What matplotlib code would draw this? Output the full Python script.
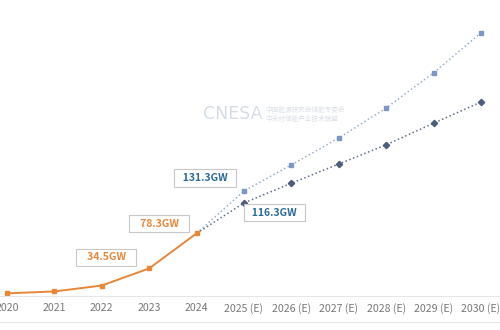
import matplotlib.pyplot as plt
from matplotlib.lines import Line2D

plt.rcParams['font.family'] = ['Noto Sans CJK SC', 'DejaVu Sans']

# données (GW cumulés)
labels = ["2020", "2021", "2022", "2023", "2024",
          "2025 (E)", "2026 (E)", "2027 (E)", "2028 (E)", "2029 (E)", "2030 (E)"]
hist_years = [0, 1, 2, 3, 4]
hist_vals = [3.3, 5.7, 13.1, 34.5, 78.3]
fc_years = [4, 5, 6, 7, 8, 9, 10]
fc_high = [78.3, 131.3, 164.0, 197.5, 235.0, 279.0, 329.0]
fc_low = [78.3, 116.3, 141.0, 165.0, 189.0, 216.0, 242.5]

orange = "#E8873A"
blue_hi = "#7B97C2"
blue_lo = "#4E5D7C"
lbl_blue = "#2A6A96"

fig = plt.figure(figsize=(5, 3.3), dpi=100)
ax = fig.add_axes([0, 34/330, 1, 296/330])

ax.plot(fc_years, fc_high, ':', color="#9AB0CC", lw=1.1)
ax.plot(fc_years[1:], fc_high[1:], 's', color=blue_hi, ms=3.5, lw=0)
ax.plot(fc_years, fc_low, ':', color="#5E6E8E", lw=1.1)
ax.plot(fc_years[1:], fc_low[1:], 'D', color=blue_lo, ms=3.2, lw=0)
ax.plot(hist_years, hist_vals, '-s', color=orange, lw=1.4, ms=3.5)

box = dict(boxstyle="square,pad=0.35", fc="white", ec="#C8C8C8", lw=0.8)
ax.annotate("   34.5GW   ", (3, 34.5), xytext=(-31, 8), textcoords="offset points",
            ha="center", va="center", color=orange, fontsize=7.5, fontweight="bold", bbox=box)
ax.annotate("   78.3GW   ", (4, 78.3), xytext=(-27, 7), textcoords="offset points",
            ha="center", va="center", color=orange, fontsize=7.5, fontweight="bold", bbox=box)
ax.annotate("  131.3GW  ", (5, 131.3), xytext=(-28, 9.4), textcoords="offset points",
            ha="center", va="center", color=lbl_blue, fontsize=7.5, fontweight="bold", bbox=box)
ax.annotate("  116.3GW  ", (5, 116.3), xytext=(22, -7), textcoords="offset points",
            ha="center", va="center", color=lbl_blue, fontsize=7.5, fontweight="bold", bbox=box)

# filigrane
fig.text(0.405, 0.655, "CNESA", color="#D6DDE5", fontsize=12.5, ha="left", va="center",
         family="DejaVu Sans")
fig.text(0.53, 0.667, "中国能源研究会储能专委会", color="#DCE1E7", fontsize=4.8, va="center")
fig.text(0.53, 0.640, "中关村储能产业技术联盟", color="#DCE1E7", fontsize=4.8, va="center")

ax.set_xlim(-7/47.4, 493/47.4)
ax.set_ylim(0, 370)
ax.set_xticks(range(len(labels)))
ax.set_xticklabels(labels, fontsize=7.6, color="#777777")
ax.tick_params(axis='x', length=0, pad=5)
ax.set_yticks([])
for s in ["top", "right", "left"]:
    ax.spines[s].set_visible(False)
ax.spines["bottom"].set_color("#E6E6E6")
ax.spines["bottom"].set_linewidth(0.8)

fig.add_artist(Line2D([0, 1], [8/330, 8/330], color="#E6E6E6", lw=0.8))

plt.savefig("out.png")
